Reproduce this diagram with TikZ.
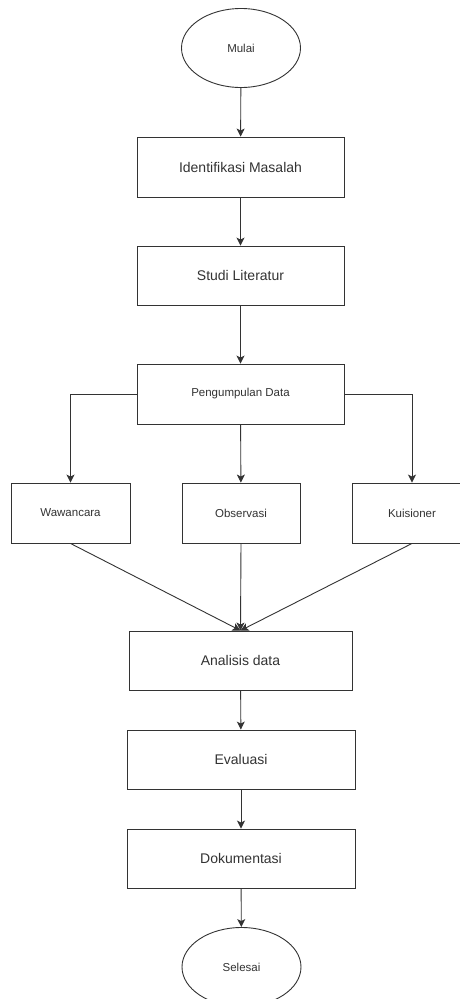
\documentclass[tikz,border=0pt]{standalone}
\usepackage{fontspec}
\setmainfont{Liberation Sans}
\usepackage{tikz}
\usetikzlibrary{shapes.geometric,arrows.meta}

\begin{document}
\begin{tikzpicture}[x=1pt,y=-1pt,
    box/.style={draw=lineDark, line width=0.9pt, fill=white, text=textDark,
        minimum width=207pt, minimum height=60pt, inner sep=0pt},
    smallbox/.style={box, minimum width=119pt},
    widebox/.style={box, minimum width=228pt, minimum height=59pt},
    oval/.style={draw=lineDark, line width=0.9pt, ellipse, fill=white, text=textDark,
        minimum width=119pt, minimum height=79pt, inner sep=0pt},
    big/.style={font=\fontsize{14}{16}\selectfont},
    small/.style={font=\fontsize{11.5}{13}\selectfont},
    arr/.style={draw=lineDark, line width=0.9pt, -{Stealth[length=8pt,width=8pt,inset=2pt]}}]

% Colori
\definecolor{lineDark}{HTML}{333333}
\definecolor{textDark}{HTML}{333333}

% Cornice
\useasboundingbox[fill=white] (0,0) rectangle (460,999);

% Inizio e passi principali
\node[oval, small] (mulai) at (241,48) {Mulai};
\node[box, big] (identifikasi) at (240.5,167) {Identifikasi Masalah};
\node[box, big, minimum height=59pt] (studi) at (240.5,275.5) {Studi Literatur};
\node[box, small] (pengumpulan) at (240.5,394) {Pengumpulan Data};

% Metodi di raccolta
\node[smallbox, small] (wawancara) at (70.5,513) {Wawancara};
\node[smallbox, small, minimum width=118pt] (observasi) at (241,513) {Observasi};
\node[smallbox, small] (kuisioner) at (412,513) {Kuisioner};

% Passi finali
\node[widebox, big, minimum width=223pt] (analisis) at (240.5,660.5) {Analisis data};
\node[widebox, big] (evaluasi) at (241,759.5) {Evaluasi};
\node[widebox, big] (dokumentasi) at (241,858.5) {Dokumentasi};
\node[oval, small] (selesai) at (241.5,967) {Selesai};

% Frecce
\draw[arr] (mulai) -- (identifikasi);
\draw[arr] (identifikasi) -- (studi);
\draw[arr] (studi) -- (pengumpulan);
\draw[arr] (pengumpulan.west) -| (wawancara.north);
\draw[arr] (pengumpulan) -- (observasi);
\draw[arr] (pengumpulan.east) -| (kuisioner.north);
\draw[arr] (wawancara.south) -- (analisis.north);
\draw[arr] (observasi.south) -- (analisis.north);
\draw[arr] (kuisioner.south) -- (analisis.north);
\draw[arr] (analisis) -- (evaluasi);
\draw[arr] (evaluasi) -- (dokumentasi);
\draw[arr] (dokumentasi) -- (selesai);

\end{tikzpicture}
\end{document}
